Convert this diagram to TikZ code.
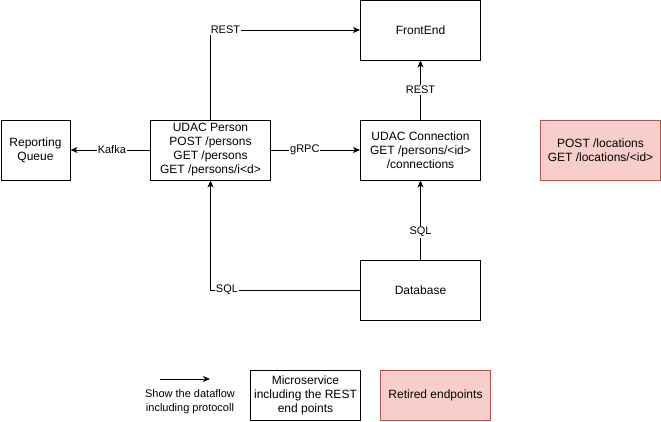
\documentclass[tikz,border=0pt]{standalone}
\usepackage{fontspec}
\setmainfont{Liberation Sans}
\usetikzlibrary{arrows.meta}
\definecolor{retfill}{HTML}{F8CECC}
\definecolor{retdraw}{HTML}{B85450}
\tikzset{
  box/.style={draw, line width=1pt, minimum width=120pt, minimum height=60pt, align=center, inner sep=0pt, font=\fontsize{12}{14}\selectfont},
  retired/.style={box, fill=retfill, draw=retdraw},
  flow/.style={line width=1pt, -{Stealth[length=7pt,width=6pt,inset=2pt]}},
  lbl/.style={fill=white, inner sep=1pt, font=\fontsize{11}{13}\selectfont},
}
\begin{document}
\begin{tikzpicture}[x=1pt,y=-1pt]
\useasboundingbox (0,0) rectangle (661,421);
\node[box] (fe) at (420.5,30) {FrontEnd};
\node[box, minimum width=69pt] (rq) at (35.5,150) {Reporting\\Queue};
\node[box] (person) at (210.5,150) {UDAC Person\\POST /persons\\GET /persons\\GET /persons/i<d>};
\node[box] (conn) at (420.5,150) {UDAC Connection\\GET /persons/<id>\\/connections};
\node[retired] (loc) at (600.5,150) {POST /locations\\GET /locations/<id>};
\node[box] (db) at (420.5,290) {Database};

\coordinate (pt) at (210.5,30);
\coordinate (pb) at (210.5,290);

\draw[flow] (person.north) -- (pt) -- node[lbl, pos=0.1] {REST} (fe.west);
\draw[flow] (conn.north) -- node[lbl] {REST} (fe.south);
\draw[flow] (person.east) -- node[lbl, pos=0.38] {gRPC} (conn.west);
\draw[flow] (person.west) -- node[lbl, pos=0.48] {Kafka} (rq.east);
\draw[flow] (db.north) -- node[lbl, pos=0.35] {SQL} (conn.south);
\draw[flow] (db.west) -- node[lbl, pos=0.89] {SQL} (pb) -- (person.south);

% legend
\coordinate (la) at (160,379);
\coordinate (lb) at (210,379);
\draw[flow] (la) -- (lb);
\node[align=center, font=\fontsize{11}{14}\selectfont, inner sep=0pt] (lt) at (190,402) {Show the dataflow\\including protocoll};
\node[box, minimum width=110pt, minimum height=50pt] (lm) at (305.5,395) {Microservice\\including the REST\\end points};
\node[retired, minimum width=110pt, minimum height=50pt] (lr) at (435.5,395) {Retired endpoints};
\end{tikzpicture}
\end{document}
